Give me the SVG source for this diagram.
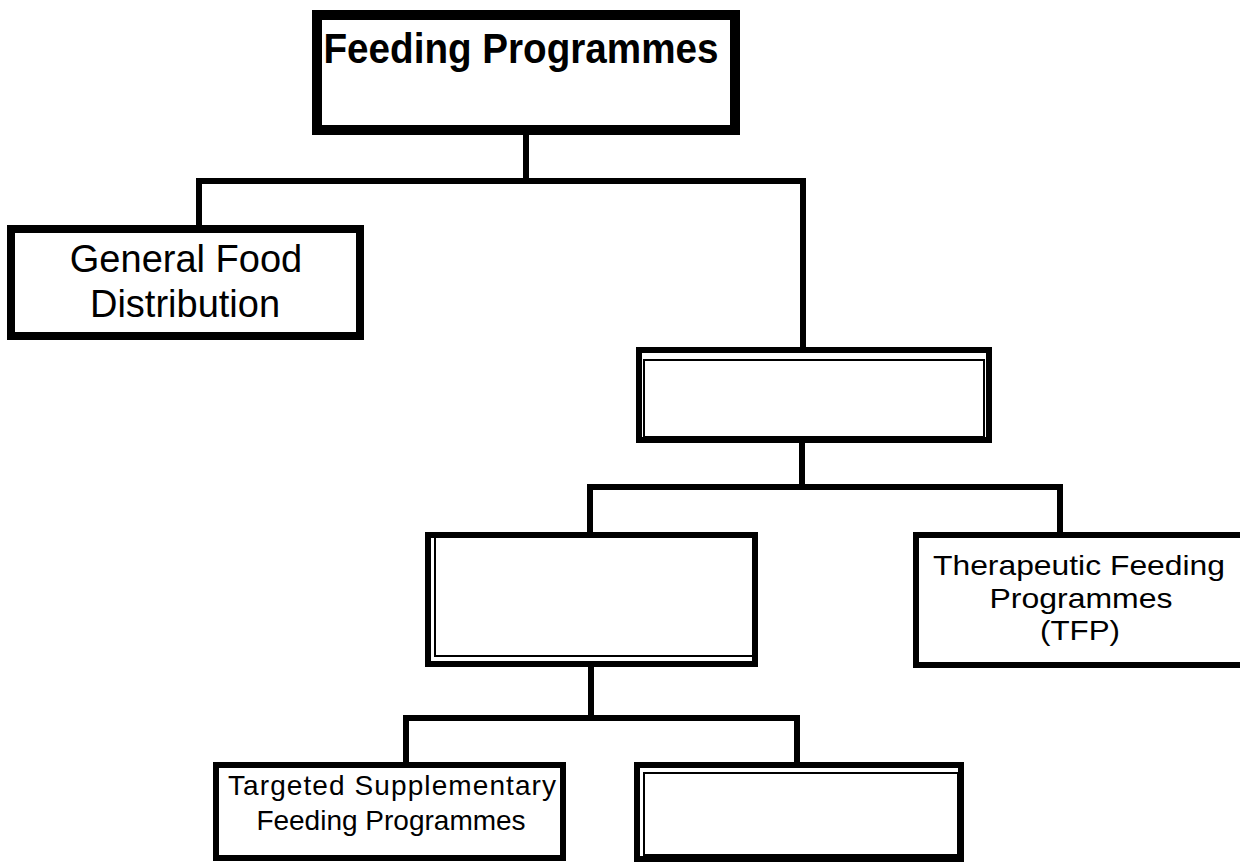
<svg xmlns="http://www.w3.org/2000/svg" width="1240" height="862" viewBox="0 0 1240 862">
<style>
.box{fill:#fff;stroke:#000}
.inner{fill:none;stroke:#000;stroke-width:2}
.lbl{font-family:"Liberation Sans",Arial,sans-serif;fill:#000;text-anchor:middle}
.conn{stroke:#000;stroke-width:6;fill:none;stroke-linecap:square}
</style>
<rect width="1240" height="862" fill="#fff"/>
<g id="connectors">
<path class="conn" d="M526 135V181M199 181H803M199 181V225M803 181V347"/>
<path class="conn" d="M802 443V487M590 487H1060M590 487V532M1060 487V532"/>
<path class="conn" d="M591 667V718M406 718H797M406 718V762M797 718V762"/>
</g>
<g id="feeding-programmes">
<rect class="box" x="317" y="15" width="418" height="115" stroke-width="10"/>
<text class="lbl" x="521" y="63" font-size="42" font-weight="bold" textLength="395" lengthAdjust="spacingAndGlyphs">Feeding Programmes</text>
</g>
<g id="general-food-distribution">
<rect class="box" x="11" y="229" width="349" height="107" stroke-width="8"/>
<text class="lbl" x="186" y="272" font-size="38">General Food</text>
<text class="lbl" x="185" y="317" font-size="38">Distribution</text>
</g>
<g id="empty-box-1">
<rect class="box" x="639" y="350" width="350" height="90" stroke-width="6"/>
<rect class="inner" x="644" y="360" width="340" height="77"/>
</g>
<g id="empty-box-2">
<rect class="box" x="428" y="535" width="327" height="129" stroke-width="6"/>
<rect class="inner" x="435" y="536" width="319" height="120" stroke-width="1.5"/>
</g>
<g id="therapeutic-feeding">
<rect class="box" x="916" y="535" width="340" height="130" stroke-width="6"/>
<text class="lbl" x="1079" y="575" font-size="28" textLength="292" lengthAdjust="spacingAndGlyphs">Therapeutic Feeding</text>
<text class="lbl" x="1081" y="608" font-size="28" textLength="183" lengthAdjust="spacingAndGlyphs">Programmes</text>
<text class="lbl" x="1080" y="640" font-size="28" textLength="80" lengthAdjust="spacingAndGlyphs">(TFP)</text>
</g>
<g id="targeted-supplementary">
<rect class="box" x="216" y="765" width="347" height="93" stroke-width="6"/>
<text class="lbl" x="392" y="795" font-size="28" textLength="328" lengthAdjust="spacing">Targeted Supplementary</text>
<text class="lbl" x="391" y="830" font-size="28">Feeding Programmes</text>
</g>
<g id="empty-box-3">
<rect class="box" x="637" y="765" width="324" height="94" stroke-width="6"/>
<rect class="inner" x="644" y="773" width="314" height="82"/>
</g>
</svg>
